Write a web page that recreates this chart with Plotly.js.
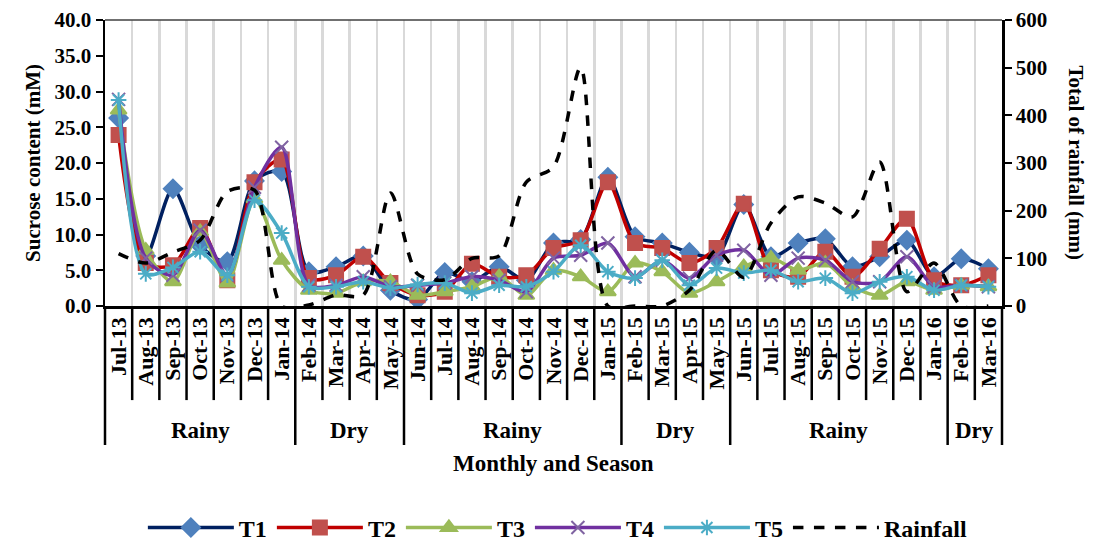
<!DOCTYPE html>
<html>
<head>
<meta charset="utf-8">
<script src="https://cdn.plot.ly/plotly-3.0.1.min.js"></script>
<style>html,body{margin:0;padding:0;background:#fff}#chart{width:1096px;height:542px}</style>
</head>
<body>
<div id="chart"></div>
<script>
const months = ['Jul-13','Aug-13','Sep-13','Oct-13','Nov-13','Dec-13','Jan-14','Feb-14','Mar-14','Apr-14','May-14','Jun-14','Jul-14','Aug-14','Sep-14','Oct-14','Nov-14','Dec-14','Jan-15','Feb-15','Mar-15','Apr-15','May-15','Jun-15','Jul-15','Aug-15','Sep-15','Oct-15','Nov-15','Dec-15','Jan-16','Feb-16','Mar-16'];
const seasons = ['Rainy','Dry','Rainy','Dry','Rainy','Dry'];
const seasonLengths = [7,4,8,4,8,2];

const T1 = [26.3,7.0,16.4,8.5,6.2,17.5,18.8,4.8,5.5,7.0,2.2,0.9,4.7,3.4,5.5,3.6,8.8,9.3,18.0,9.7,8.8,7.5,6.9,14.2,6.9,8.8,9.4,5.5,6.9,9.2,4.1,6.6,5.2];
const T2 = [23.9,6.0,5.7,10.9,3.6,17.3,20.5,3.9,4.3,6.9,3.2,1.5,2.0,5.9,4.1,4.3,8.1,9.2,17.3,8.8,8.1,6.0,8.1,14.3,5.0,4.1,7.6,4.1,8.0,12.2,3.6,2.9,4.3];
const T3 = [27.4,7.8,3.4,10.4,3.2,15.0,6.4,2.2,1.8,3.4,3.4,1.5,2.0,2.7,4.1,1.5,5.0,4.1,2.0,6.0,4.8,1.8,3.4,5.5,6.7,5.0,6.0,2.7,1.5,3.4,2.2,2.9,2.7];
const T4 = [28.9,6.7,4.3,10.6,4.3,16.6,22.2,2.9,2.9,4.1,2.7,2.9,3.2,4.1,3.6,2.0,6.7,7.1,8.8,4.1,6.4,3.9,7.1,7.8,4.3,6.7,6.4,3.4,3.4,6.9,2.7,2.9,2.7];
const T5 = [28.8,4.5,5.4,7.6,4.3,14.8,10.2,2.7,2.7,3.4,2.5,3.0,3.2,1.8,2.9,2.7,4.8,8.5,4.8,3.9,6.4,2.9,5.3,4.6,5.0,3.4,3.9,1.8,3.4,4.1,2.2,2.9,2.7];
const rainfall = [110,90,113,138,240,243,0,2,23,23,237,67,55,100,105,260,292,500,0,0,0,33,117,60,174,229,216,187,302,30,90,0,0];

const FONT = '"Liberation Serif", "Times New Roman", Times, serif';
const smooth = 0.8;

function series(name, y, lineColor, markerColor, symbol, size) {
  return {
    type: 'scatter', mode: 'lines+markers', name: name, x: months, y: y,
    line: {color: lineColor, width: 3.5, shape: 'spline', smoothing: smooth},
    marker: {symbol: symbol, size: size, color: markerColor, line: {color: markerColor, width: 2}}
  };
}

const traces = [
  series('T1', T1, '#002060', '#4F81BD', 'diamond', 14),
  series('T2', T2, '#C00000', '#C0504D', 'square', 14),
  series('T3', T3, '#9BBB59', '#9BBB59', 'triangle-up', 14),
  series('T4', T4, '#7030A0', '#8064A2', 'x-thin-open', 13),
  series('T5', T5, '#4BACC6', '#4BACC6', 'asterisk-open', 13),
  {
    type: 'scatter', mode: 'lines', name: 'Rainfall', x: months, y: rainfall, yaxis: 'y2',
    line: {color: '#000000', width: 3.5, dash: 'dash', shape: 'spline', smoothing: smooth}
  }
];

const N = months.length;
const shapes = [];
const seasonBounds = [0];
seasonLengths.reduce((acc, l) => { seasonBounds.push(acc + l); return acc + l; }, 0);
for (let i = 0; i <= N; i++) {
  const isSeason = seasonBounds.indexOf(i) >= 0;
  shapes.push({type: 'line', xref: 'paper', yref: 'paper', x0: i / N, x1: i / N, y0: 0,
    y1: isSeason ? -0.486 : -0.329, line: {color: '#000', width: 2.5}});
}
shapes.push({type: 'line', xref: 'paper', yref: 'paper', x0: 0, x1: 1, y0: 1, y1: 1, line: {color: '#404040', width: 1.5}});

const annotations = [];
let start = 0;
seasons.forEach((s, k) => {
  const len = seasonLengths[k];
  annotations.push({xref: 'paper', yref: 'paper', x: (start + len / 2) / N, y: -0.434, text: '<b>' + s + '</b>',
    showarrow: false, xanchor: 'center', yanchor: 'middle', font: {family: FONT, size: 23, color: '#000'}});
  start += len;
});
annotations.push({xref: 'paper', yref: 'paper', x: 0.5, y: -0.549, text: '<b>Monthly and Season</b>',
  showarrow: false, xanchor: 'center', yanchor: 'middle', font: {family: FONT, size: 23, color: '#000'}});
annotations.push({xref: 'paper', yref: 'paper', x: 1.082, y: 0.5, text: '<b>Total of rainfall (mm)</b>', textangle: 90,
  showarrow: false, xanchor: 'center', yanchor: 'middle', font: {family: FONT, size: 21, color: '#000'}});

const layout = {
  width: 1096, height: 542,
  margin: {l: 105, r: 94, t: 20, b: 236, autoexpand: false},
  paper_bgcolor: '#fff', plot_bgcolor: '#fff',
  font: {family: FONT, color: '#000', size: 21},
  showlegend: true,
  legend: {orientation: 'h', xref: 'container', yref: 'container', x: 0.509, xanchor: 'center', y: 0.026, yanchor: 'middle',
    font: {family: FONT, size: 24, color: '#000', weight: 'bold'}, itemwidth: 86, tracegroupgap: 0},
  xaxis: {
    type: 'category', tickson: 'boundaries', showgrid: true, gridcolor: '#D9D9D9', gridwidth: 2.5,
    ticks: '', tickangle: -90, showline: true, linecolor: '#000', linewidth: 2.5, automargin: false,
    tickfont: {family: FONT, size: 22, color: '#000', weight: 'bold'},
    range: [-0.5, N - 0.5], fixedrange: true, zeroline: false
  },
  yaxis: {
    range: [0, 40], dtick: 5, tickformat: '.1f', showgrid: false, zeroline: false, automargin: false,
    showline: true, linecolor: '#000', linewidth: 2.5, ticks: 'outside', ticklen: 7, tickwidth: 2, tickcolor: '#000',
    tickfont: {family: FONT, size: 21, color: '#000', weight: 'bold'},
    title: {text: '<b>Sucrose content (mM)</b>', font: {family: FONT, size: 21, color: '#000'}, standoff: 8}
  },
  yaxis2: {
    overlaying: 'y', side: 'right', range: [0, 600], dtick: 100, showgrid: false, zeroline: false, automargin: false,
    showline: true, linecolor: '#000', linewidth: 2.5, ticks: 'outside', ticklen: 7, tickwidth: 2, tickcolor: '#000',
    tickfont: {family: FONT, size: 21, color: '#000', weight: 'bold'}
  },
  shapes: shapes,
  annotations: annotations
};

Plotly.newPlot('chart', traces, layout, {displayModeBar: false, staticPlot: true});
</script>
</body>
</html>
